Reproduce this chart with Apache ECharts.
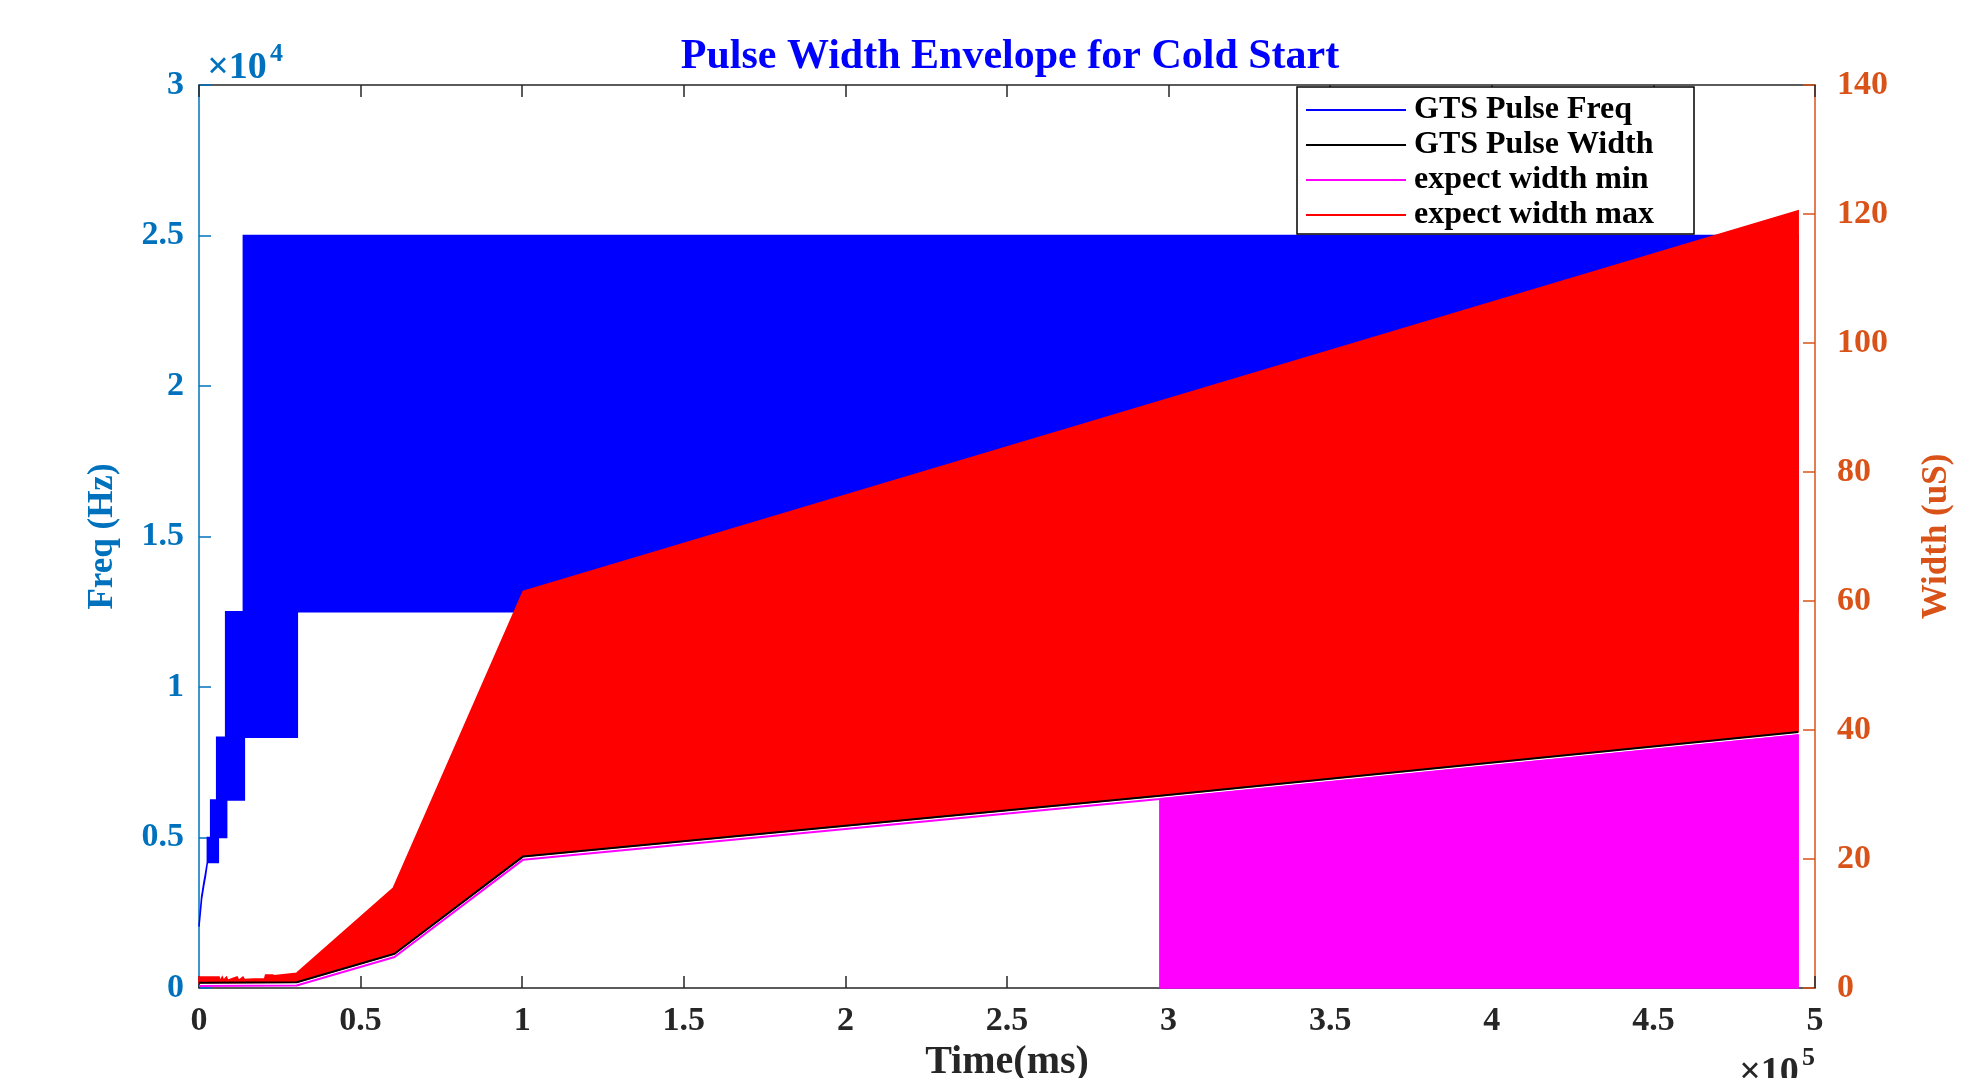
<!DOCTYPE html>
<html><head><meta charset="utf-8">
<script src="https://cdn.jsdelivr.net/npm/echarts@6/dist/echarts.min.js"></script>
<style>html,body{margin:0;padding:0;background:#fff}#c{width:1986px;height:1078px}</style>
</head><body><div id="c"></div>
<script>
// ---- Data (time in ms, frequency in Hz, width in uS) ----
// GTS Pulse Freq: dense oscillation, drawn as its upper / lower envelope
const freqUpperTime = [0, 800, 1500, 2000, 2580, 2580, 3610, 3610, 5470, 5470, 8250, 8250, 13720, 13720, 494800];
const freqUpperHz   = [2040, 3030, 3500, 3800, 4170, 5000, 5000, 6250, 6250, 8333, 8333, 12500, 12500, 25000, 25000];
const freqLowerTime = [0, 800, 1500, 2000, 2580, 5980, 5980, 8560, 8560, 14030, 14030, 30420, 30420, 494800];
const freqLowerHz   = [2040, 2950, 3420, 3720, 4167, 4167, 5000, 5000, 6250, 6250, 8333, 8333, 12500, 12500];

// expect width max: upper envelope (lower envelope follows the GTS Pulse Width line)
const widthMaxTime = [0, 6200, 6600, 7200, 7600, 8500, 8900, 11800, 12300, 13600, 14100, 16800, 20300, 20600, 22800, 23200, 30230, 60120, 100300, 494800];
const widthMaxUs   = [1.7, 1.7, 1.1, 1.7, 1.2, 1.7, 1.2, 1.7, 1.2, 1.7, 1.3, 1.4, 1.4, 2.0, 2.0, 1.9, 2.3, 15.5, 61.5, 120.5];

// GTS Pulse Width line
const widthTime = [0, 30230, 60500, 100300, 297300, 494800];
const widthUs   = [0.8, 0.9, 5.3, 20.4, 29.8, 39.7];

// expect width min line
const widthMinTime = [0, 30230, 60500, 100300, 297300, 494800];
const widthMinUs   = [0.3, 0.4, 4.8, 19.9, 29.3, 39.2];
// expect width min drops to 0 (filled) from this time on
const widthMinFillStart = 297300;

// Axis ticks
const xTicks = {min: 0, max: 500000, step: 50000};
const freqTicks = {min: 0, max: 30000, step: 5000};
const widthTicks = {min: 0, max: 140, step: 20};

// ---- Chart ----
const FONT = "'Liberation Serif','Times New Roman',serif";
const C_X = '#262626', C_L = '#0072BD', C_R = '#D95319';
const chart = echarts.init(document.getElementById('c'), null, {renderer: 'canvas'});

function pairs(t, v) { return t.map((x, i) => [x, v[i]]); }
function ringOf(upper, lower) { return upper.concat(lower.slice().reverse()); }

function polygonSeries(name, ring, yAxisIndex, color, z) {
  return {
    type: 'custom', name: name, xAxisIndex: 0, yAxisIndex: yAxisIndex, z: z,
    data: ring, encode: {x: 0, y: 1}, silent: true, itemStyle: {color: color},
    renderItem: function (params, api) {
      if (params.dataIndex !== 0) return null;
      const pts = ring.map(p => api.coord(p));
      return {type: 'polygon', shape: {points: pts},
        style: {fill: color, stroke: color, lineWidth: 1.5}};
    }
  };
}

const freqRing = ringOf(pairs(freqUpperTime, freqUpperHz), pairs(freqLowerTime, freqLowerHz));
const maxRing = ringOf(pairs(widthMaxTime, widthMaxUs), pairs(widthTime, widthUs));
const minLine = pairs(widthMinTime, widthMinUs);
const minFillTop = minLine.filter(p => p[0] >= widthMinFillStart);
const minRing = minFillTop.concat([[minFillTop[minFillTop.length - 1][0], 0], [minFillTop[0][0], 0]]);

const tickLabel = (color) => ({fontFamily: FONT, fontWeight: 'bold', fontSize: 34, color: color});

const option = {
  backgroundColor: '#fff',
  animation: false,
  grid: {left: 199, right: 171, top: 85, bottom: 90, containLabel: false, outerBoundsMode: 'none'},
  legend: {
    data: ['GTS Pulse Freq', 'GTS Pulse Width', 'expect width min', 'expect width max'],
    orient: 'vertical', left: 1297, top: 87, padding: [7, 12, 3, 9], itemGap: 3,
    icon: 'rect', itemWidth: 100, itemHeight: 2, selectedMode: false,
    backgroundColor: '#fff', borderColor: '#000', borderWidth: 1.5, borderRadius: 0,
    textStyle: {fontFamily: FONT, fontWeight: 'bold', fontSize: 32, color: '#000',
      lineHeight: 30, width: 268, padding: [0, 0, 0, 3]}
  },
  xAxis: [{
    type: 'value', min: xTicks.min, max: xTicks.max, interval: xTicks.step, position: 'bottom',
    axisLine: {show: true, onZero: false, lineStyle: {color: C_X, width: 1.5}},
    axisTick: {show: true, inside: true, length: 12, lineStyle: {color: C_X, width: 1.5}},
    axisLabel: Object.assign({formatter: v => String(v / 1e5), margin: 16}, tickLabel(C_X)),
    splitLine: {show: false},
    name: 'Time(ms)', nameLocation: 'middle', nameGap: 50,
    nameTextStyle: {fontFamily: FONT, fontWeight: 'bold', fontSize: 40, color: C_X}
  }, {
    type: 'value', min: xTicks.min, max: xTicks.max, interval: xTicks.step, position: 'top',
    axisLine: {show: true, onZero: false, lineStyle: {color: C_X, width: 1.5}},
    axisTick: {show: true, inside: true, length: 12, lineStyle: {color: C_X, width: 1.5}},
    axisLabel: {show: false}, splitLine: {show: false}
  }],
  yAxis: [{
    type: 'value', min: freqTicks.min, max: freqTicks.max, interval: freqTicks.step, position: 'left',
    axisLine: {show: true, onZero: false, lineStyle: {color: C_L, width: 1.5}},
    axisTick: {show: true, inside: true, length: 12, lineStyle: {color: C_L, width: 1.5}},
    axisLabel: Object.assign({formatter: v => String(v / 1e4), margin: 15}, tickLabel(C_L)),
    splitLine: {show: false},
    name: 'Freq (Hz)', nameLocation: 'middle', nameGap: 79, nameRotate: 90,
    nameTextStyle: {fontFamily: FONT, fontWeight: 'bold', fontSize: 35, color: C_L}
  }, {
    type: 'value', min: widthTicks.min, max: widthTicks.max, interval: widthTicks.step, position: 'right',
    axisLine: {show: true, onZero: false, lineStyle: {color: C_R, width: 1.5}},
    axisTick: {show: true, inside: true, length: 12, lineStyle: {color: C_R, width: 1.5}},
    axisLabel: Object.assign({margin: 22}, tickLabel(C_R)),
    splitLine: {show: false},
    name: 'Width (uS)', nameLocation: 'middle', nameGap: 104, nameRotate: 90,
    nameTextStyle: {fontFamily: FONT, fontWeight: 'bold', fontSize: 35, color: C_R}
  }],
  series: [
    polygonSeries('GTS Pulse Freq', freqRing, 0, '#0000FF', 1),
    polygonSeries('expect width max', maxRing, 1, '#FF0000', 2),
    polygonSeries('expect width min', minRing, 1, '#FF00FF', 3),
    {type: 'line', name: 'expect width min', xAxisIndex: 0, yAxisIndex: 1, z: 4, data: minLine,
      showSymbol: false, silent: true, lineStyle: {color: '#FF00FF', width: 2}, itemStyle: {color: '#FF00FF'}},
    {type: 'line', name: 'GTS Pulse Width', xAxisIndex: 0, yAxisIndex: 1, z: 5, data: pairs(widthTime, widthUs),
      showSymbol: false, silent: true, lineStyle: {color: '#000000', width: 2}, itemStyle: {color: '#000000'}}
  ],
  graphic: [
    {type: 'text', x: 1010, y: 57, z: 10, style: {text: 'Pulse Width Envelope for Cold Start',
      fontFamily: FONT, fontWeight: 'bold', fontSize: 42, fill: '#0000FF', align: 'center', verticalAlign: 'middle'}},
    {type: 'text', x: 237, y: 68, z: 10, style: {text: '×10', fontFamily: FONT, fontWeight: 'bold', fontSize: 38,
      fill: C_L, align: 'center', verticalAlign: 'middle'}},
    {type: 'text', x: 270, y: 54, z: 10, style: {text: '4', fontFamily: FONT, fontWeight: 'bold', fontSize: 26,
      fill: C_L, align: 'left', verticalAlign: 'middle'}},
    {type: 'text', x: 1769, y: 1073, z: 10, style: {text: '×10', fontFamily: FONT, fontWeight: 'bold', fontSize: 38,
      fill: C_X, align: 'center', verticalAlign: 'middle'}},
    {type: 'text', x: 1802, y: 1058, z: 10, style: {text: '5', fontFamily: FONT, fontWeight: 'bold', fontSize: 26,
      fill: C_X, align: 'left', verticalAlign: 'middle'}}
  ]
};
chart.setOption(option);
</script>
</body></html>
